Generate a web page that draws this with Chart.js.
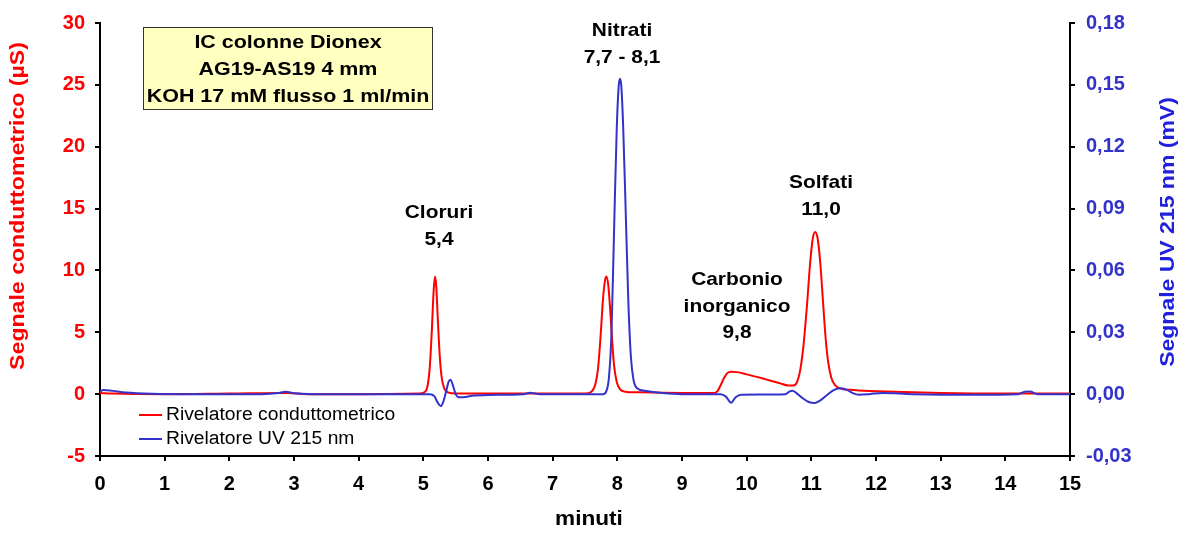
<!DOCTYPE html>
<html lang="it">
<head>
<meta charset="UTF-8">
<title>Cromatogramma IC</title>
<script src="https://cdn.jsdelivr.net/npm/chart.js"></script>
<style>
  body { margin: 0; background: #fff; }
  #wrap { width: 1189px; height: 533px; }
</style>
</head>
<body>
<div id="wrap"><canvas id="chart" width="1189" height="533"></canvas></div>
<script>
// conductivity detector (µS)
var condTime = [0.0, 0.2, 1.0, 2.0, 2.9, 3.2, 4.0, 4.95, 5.03, 5.07, 5.10, 5.13, 5.16, 5.18, 5.20, 5.22, 5.25, 5.28, 5.32, 5.38, 5.5,
  6.5, 7.5, 7.6, 7.66, 7.70, 7.74, 7.78, 7.81, 7.83, 7.86, 7.89, 7.92, 7.95, 7.99, 8.04, 8.12, 8.3, 9.0,
  9.5, 9.55, 9.60, 9.65, 9.70, 9.76, 9.85, 10.0, 10.25, 10.5, 10.65, 10.72, 10.78, 10.83, 10.88, 10.93, 10.98, 11.02, 11.06,
  11.10, 11.14, 11.18, 11.22, 11.26, 11.31, 11.37, 11.45, 11.6, 11.9, 12.3, 13.0, 14.0, 15.0];
var condSignal = [0.1, 0.05, 0.0, 0.05, 0.1, 0.0, 0.0, 0.05, 0.2, 0.8, 2.2, 5.0, 8.4, 9.5, 8.7, 6.5, 3.4, 1.5, 0.5, 0.15, 0.05,
  0.05, 0.05, 0.2, 0.8, 2.0, 4.6, 7.8, 9.2, 9.5, 8.8, 6.8, 4.3, 2.3, 1.0, 0.4, 0.2, 0.15, 0.1,
  0.1, 0.25, 0.75, 1.3, 1.7, 1.82, 1.78, 1.6, 1.26, 0.9, 0.7, 0.7, 1.0, 2.0, 4.0, 7.0, 10.5, 12.5, 13.1,
  12.5, 10.5, 7.5, 4.6, 2.6, 1.3, 0.7, 0.45, 0.35, 0.25, 0.2, 0.1, 0.05, 0.05];

// UV detector 215 nm (mV)
var uvTime = [0.0, 0.05, 0.15, 0.4, 0.8, 1.5, 2.5, 2.75, 2.87, 3.0, 3.3, 4.9, 5.1, 5.17, 5.22, 5.27, 5.31, 5.35, 5.39, 5.42, 5.46,
  5.50, 5.55, 5.62, 5.75, 6.0, 6.55, 6.65, 6.8, 7.5, 7.78, 7.83, 7.87, 7.91, 7.95, 7.99, 8.02, 8.04, 8.06, 8.09, 8.13,
  8.17, 8.21, 8.25, 8.3, 8.45, 8.7, 9.0, 9.6, 9.68, 9.76, 9.83, 9.92, 10.2, 10.6, 10.66, 10.71, 10.77, 10.86, 10.96, 11.05,
  11.14, 11.24, 11.34, 11.44, 11.54, 11.64, 11.74, 11.9, 12.1, 12.3, 12.6, 13.5, 14.2, 14.3, 14.38, 14.5, 15.0];
var uvSignal = [0.0012, 0.002, 0.0018, 0.0008, 0.0002, 0.0, 0.0, 0.0005, 0.0012, 0.0004, 0.0, 0.0, 0.0, -0.001, -0.004, -0.0058, -0.0035, 0.001, 0.006, 0.007, 0.004,
  0.0, -0.0015, -0.0015, -0.0008, -0.0004, 0.0, 0.0007, 0.0, 0.0, 0.0, 0.0015, 0.008, 0.03, 0.08, 0.128, 0.149, 0.153, 0.15, 0.13, 0.088,
  0.045, 0.018, 0.007, 0.003, 0.0015, 0.0005, 0.0, 0.0, -0.0012, -0.0042, -0.0015, -0.0003, -0.0002, 0.0, 0.0012, 0.0017, 0.0005, -0.0018, -0.0038, -0.0043,
  -0.003, -0.0005, 0.0018, 0.0028, 0.0022, 0.0005, -0.0003, 0.0, 0.0006, 0.0004, 0.0, -0.0003, 0.0, 0.0012, 0.0013, 0.0, 0.0];

var seriesNames = ['Rivelatore conduttometrico', 'Rivelatore UV 215 nm'];
var boxLines = ['IC colonne Dionex', 'AG19-AS19 4 mm', 'KOH 17 mM flusso 1 ml/min'];
var peakLabels = [
  { lines: ['Cloruri', '5,4'], x: 439, y: 213 },
  { lines: ['Nitrati', '7,7 - 8,1'], x: 622, y: 31 },
  { lines: ['Carbonio', 'inorganico', '9,8'], x: 737, y: 280 },
  { lines: ['Solfati', '11,0'], x: 821, y: 183 }
];

var RED = '#FF0000';
var BLUE = '#3333CC';
var FONT = '"Liberation Sans", Arial, sans-serif';

function toPoints(xs, ys) {
  return xs.map(function (x, i) { return { x: x, y: ys[i] }; });
}

// text drawn a bit wider than the font, along its own direction
function wideText(ctx, text, x, y, sx, angle) {
  ctx.save();
  ctx.translate(x, y);
  if (angle) ctx.rotate(angle);
  ctx.scale(sx, 1);
  ctx.fillText(text, 0, 0);
  ctx.restore();
}

// text boxes, labels, legend and axis titles
var overlay = {
  id: 'overlay',
  afterDraw: function (chart) {
    var ctx = chart.ctx;
    ctx.save();
    ctx.textBaseline = 'middle';

    // method box
    ctx.fillStyle = '#FFFFC0';
    ctx.fillRect(143, 27, 289, 82);
    ctx.strokeStyle = '#333';
    ctx.lineWidth = 1;
    ctx.strokeRect(143.5, 27.5, 289, 82);
    ctx.fillStyle = '#000';
    ctx.font = 'bold 18.5px ' + FONT;
    ctx.textAlign = 'center';
    boxLines.forEach(function (t, i) { wideText(ctx, t, 288, 43 + i * 27, 1.16); });

    // peak names
    ctx.font = 'bold 19px ' + FONT;
    peakLabels.forEach(function (p) {
      p.lines.forEach(function (t, i) { wideText(ctx, t, p.x, p.y + i * 26.5, 1.1); });
    });

    // legend
    ctx.lineWidth = 2;
    ctx.font = '18px ' + FONT;
    ctx.textAlign = 'left';
    [RED, BLUE].forEach(function (c, i) {
      var y = 415 + i * 24;
      ctx.strokeStyle = c;
      ctx.beginPath();
      ctx.moveTo(139, y);
      ctx.lineTo(162, y);
      ctx.stroke();
      ctx.fillStyle = '#000';
      wideText(ctx, seriesNames[i], 166, y, 1.07);
    });

    // axis titles
    ctx.textAlign = 'center';
    ctx.font = 'bold 20px ' + FONT;
    ctx.fillStyle = '#000';
    wideText(ctx, 'minuti', 589, 519, 1.13);

    ctx.fillStyle = RED;
    wideText(ctx, 'Segnale conduttometrico (µS)', 18, 206, 1.155, -Math.PI / 2);

    ctx.fillStyle = '#2020DD';
    wideText(ctx, 'Segnale UV 215 nm (mV)', 1168, 232, 1.15, -Math.PI / 2);
    ctx.restore();
  }
};

var axisGrid = { drawOnChartArea: false, drawTicks: true, tickLength: 5, color: '#000', lineWidth: 2 };
var axisBorder = { display: true, color: '#000', width: 2 };

new Chart(document.getElementById('chart'), {
  type: 'scatter',
  data: {
    datasets: [
      {
        label: seriesNames[1],
        data: toPoints(uvTime, uvSignal),
        yAxisID: 'yUv',
        showLine: true,
        borderColor: BLUE,
        borderWidth: 2,
        pointRadius: 0,
        cubicInterpolationMode: 'monotone',
        order: 0
      },
      {
        label: seriesNames[0],
        data: toPoints(condTime, condSignal),
        yAxisID: 'yCond',
        showLine: true,
        borderColor: RED,
        borderWidth: 2,
        pointRadius: 0,
        cubicInterpolationMode: 'monotone',
        order: 1
      }
    ]
  },
  options: {
    responsive: false,
    animation: false,
    events: [],
    layout: { padding: { top: 18, left: 0, right: 0, bottom: 0 } },
    plugins: { legend: { display: false }, tooltip: { enabled: false } },
    scales: {
      x: {
        type: 'linear',
        min: 0,
        max: 15,
        grid: axisGrid,
        border: axisBorder,
        ticks: { stepSize: 1, color: '#000', font: { family: FONT, size: 20, weight: 'bold' }, padding: 11, maxRotation: 0 },
        afterFit: function (s) { s.height = 77; }
      },
      yCond: {
        position: 'left',
        min: -5,
        max: 30,
        grid: axisGrid,
        border: axisBorder,
        ticks: { stepSize: 5, color: RED, font: { family: FONT, size: 20, weight: 'bold' }, padding: 10 },
        afterFit: function (s) { s.width = 100; }
      },
      yUv: {
        position: 'right',
        min: -0.03,
        max: 0.18,
        grid: axisGrid,
        border: axisBorder,
        ticks: {
          stepSize: 0.03,
          color: BLUE,
          font: { family: FONT, size: 20, weight: 'bold' },
          padding: 11,
          callback: function (v) { return v.toFixed(2).replace('.', ','); }
        },
        afterFit: function (s) { s.width = 119; }
      }
    }
  },
  plugins: [overlay]
});
</script>
</body>
</html>
